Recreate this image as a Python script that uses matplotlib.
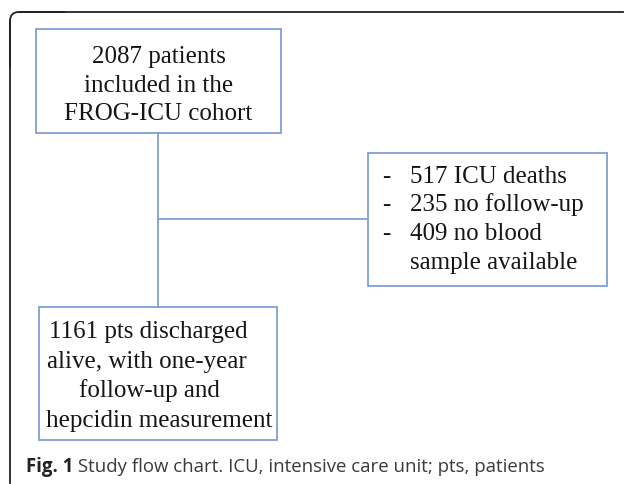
import matplotlib.pyplot as plt
from matplotlib.patches import Rectangle, FancyBboxPatch

# flow chart content
top_text = ["2087 patients", "included in the", "FROG-ICU cohort"]
excl_items = ["517 ICU deaths", "235 no follow-up", "409 no blood", "sample available"]
excl_dash = [True, True, True, False]
bottom_text = ["1161 pts discharged", "alive, with one-year", "follow-up and", "hepcidin measurement"]
caption_bold = "Fig. 1"
caption_rest = " Study flow chart. ICU, intensive care unit; pts, patients"

W, H = 625, 484
blue = "#7f9fd2"
serif = "Liberation Serif"

fig = plt.figure(figsize=(W / 100, H / 100), dpi=100)
ax = fig.add_axes([0, 0, 1, 1])
ax.set_xlim(0, W)
ax.set_ylim(H, 0)
ax.axis("off")

# outer frame (rounded top-left corner, open on right/bottom)
r = 9
ax.plot([10, 10], [483, 12 + r], color="#222222", lw=1.3)
ax.plot([10 + r, 623], [12, 12], color="#222222", lw=1.3)
corner = FancyBboxPatch((10, 12), 60, 60, boxstyle=f"round,pad=0,rounding_size={r}",
                        fc="none", ec="#222222", lw=1.3)
ax.add_patch(corner)
ax.add_patch(Rectangle((11, 13 + r), 70, 70, fc="white", ec="none", zorder=2))
ax.add_patch(Rectangle((11 + r, 13), 70, 70, fc="white", ec="none", zorder=2))

# boxes
def box(x0, y0, x1, y1):
    ax.add_patch(Rectangle((x0, y0), x1 - x0, y1 - y0, fc="white", ec=blue, lw=1.3, zorder=3))

box(36, 29, 281, 133)
box(368, 153, 607, 286)
box(39, 307, 277, 440)

# connectors
ax.plot([158, 158], [133, 307], color=blue, lw=1.3, zorder=1)
ax.plot([158, 368], [219, 219], color=blue, lw=1.3, zorder=1)

fs = 18
tc = "#151515"
for i, t in enumerate(top_text):
    ax.text(158.5, 63 + i * 28.5, t, ha="center", va="baseline", fontsize=fs,
            family=serif, color=tc, zorder=4)

for i, t in enumerate(excl_items):
    y = 183 + i * 28.5
    if excl_dash[i]:
        ax.text(382, y, "-", ha="left", va="baseline", fontsize=fs, family=serif,
                color=tc, zorder=4)
    ax.text(410, y, t, ha="left", va="baseline", fontsize=fs, family=serif,
            color=tc, zorder=4)

# bottom box lines are hand-indented in the original
bottom_x = [49, 47, 79, 46]
for i, t in enumerate(bottom_text):
    ax.text(bottom_x[i], 338 + i * 29.7, t, ha="left", va="baseline", fontsize=fs,
            family=serif, color=tc, zorder=4)

# caption
cfs = 13.4
cap = ax.text(26, 472, caption_bold, ha="left", va="baseline", fontsize=cfs,
              family="Open Sans", fontweight="bold", color="#222222")
fig.canvas.draw()
bb = cap.get_window_extent()
x_end = ax.transData.inverted().transform((bb.x1, bb.y0))[0]
ax.text(x_end, 472, caption_rest, ha="left", va="baseline", fontsize=cfs,
        family="Open Sans", color="#3a3a3a")

fig.savefig("out.png", dpi=100)
